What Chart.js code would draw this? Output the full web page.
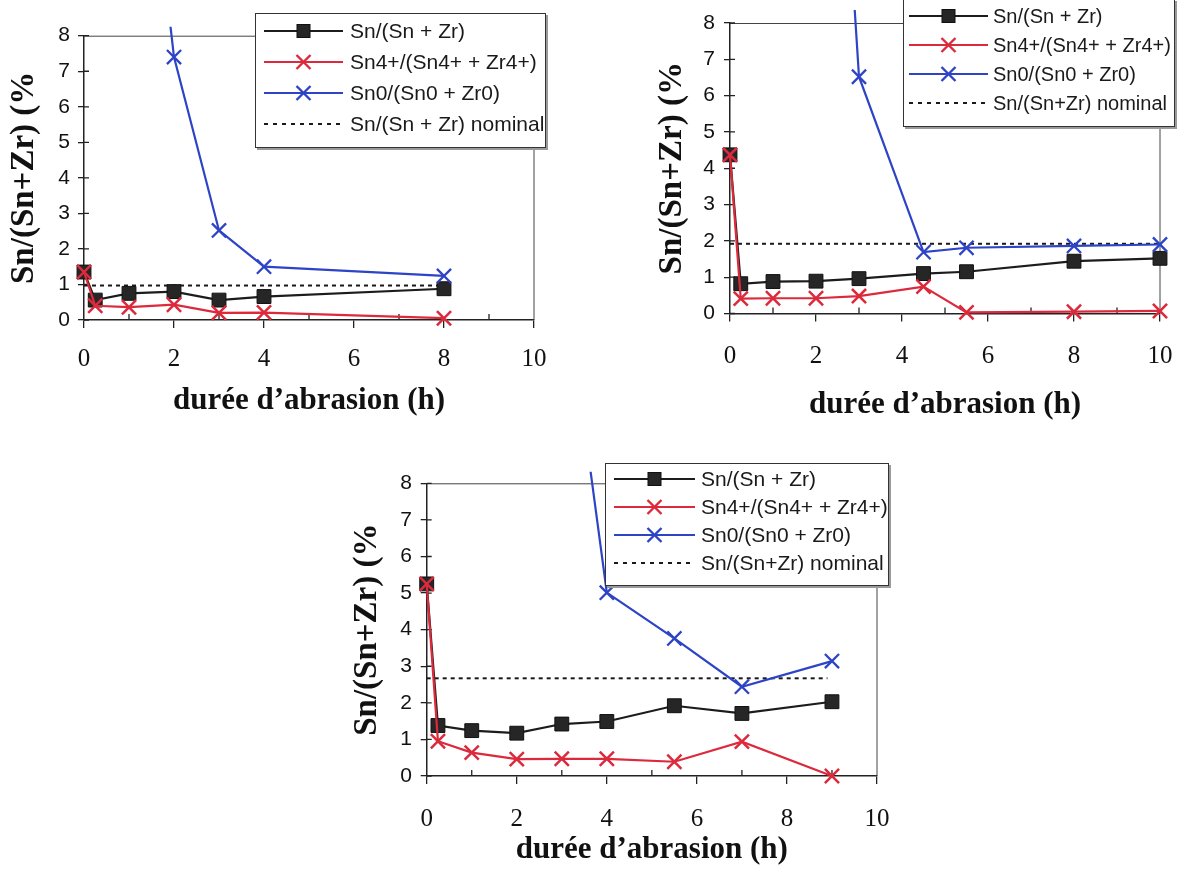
<!DOCTYPE html>
<html><head><meta charset="utf-8">
<script src="https://cdn.jsdelivr.net/npm/chart.js@4"></script>
<style>
html,body{margin:0;padding:0;background:#fff;}
#wrap{position:relative;width:1192px;height:873px;overflow:hidden;background:#fff;}
.panel{position:absolute;}
.legend{position:absolute;background:#fff;border:1px solid #333;box-shadow:2px 2px 0 #9a9a9a;font-family:'Liberation Sans',Arial,sans-serif;color:#1a1a1a;box-sizing:border-box;}
.row{position:absolute;display:flex;align-items:center;white-space:nowrap;height:24px;}
</style></head><body>
<div id="wrap"></div>
<script>
// ---------- data ----------
const xTickLabels = [0, 2, 4, 6, 8, 10];
const yTickLabels = [0, 1, 2, 3, 4, 5, 6, 7, 8];
const yTitle = 'Sn/(Sn+Zr) (%';
const xTitle = 'durée d’abrasion (h)';
const labelsA = ['Sn/(Sn + Zr)', 'Sn4+/(Sn4+ + Zr4+)', 'Sn0/(Sn0 + Zr0)', 'Sn/(Sn + Zr) nominal'];
const labelsBC = ['Sn/(Sn + Zr)', 'Sn4+/(Sn4+ + Zr4+)', 'Sn0/(Sn0 + Zr0)', 'Sn/(Sn+Zr) nominal'];

// panel (a) top-left
const aTime = [0, 0.25, 1, 2, 3, 4, 8];
const aSnTotal = [1.35, 0.56, 0.75, 0.8, 0.56, 0.66, 0.88];
const aSn4 = [1.35, 0.4, 0.36, 0.43, 0.2, 0.21, 0.05];
const aTimeSn0 = [1, 2, 3, 4, 8];
const aSn0 = [18.4, 7.4, 2.52, 1.5, 1.24];
const aNominalX = [0, 8];
const aNominal = [0.97, 0.97];

// panel (b) top-right
const bTime = [0, 0.25, 1, 2, 3, 4.5, 5.5, 8, 10];
const bSnTotal = [4.37, 0.82, 0.88, 0.89, 0.96, 1.1, 1.15, 1.44, 1.52];
const bSn4 = [4.37, 0.41, 0.42, 0.42, 0.48, 0.74, 0.03, 0.05, 0.07];
const bTimeSn0 = [2, 3, 4.5, 5.5, 8, 10];
const bSn0 = [25, 6.52, 1.69, 1.81, 1.86, 1.9];
const bNominalX = [0, 10];
const bNominal = [1.92, 1.92];

// panel (c) bottom
const cTime = [0, 0.25, 1, 2, 3, 4, 5.5, 7, 9];
const cSnTotal = [5.25, 1.38, 1.24, 1.17, 1.42, 1.49, 1.92, 1.71, 2.03];
const cSn4 = [5.25, 0.95, 0.64, 0.46, 0.47, 0.47, 0.39, 0.94, 0.0];
const cTimeSn0 = [3, 4, 5.5, 7, 9];
const cSn0 = [14.2, 5.01, 3.76, 2.44, 3.14];
const cNominalX = [0, 8.9];
const cNominal = [2.67, 2.67];

// ---------- styles ----------
const STY = [
  {color:'#1c1c1c', fill:'#262626', point:'rect', r:9.8, bw:2.2, pbw:1, order:2},
  {color:'#dc2a3c', fill:'#dc2a3c', point:'crossRot', r:10, bw:2.2, pbw:2.5, order:0},
  {color:'#2e44c6', fill:'#2e44c6', point:'crossRot', r:10, bw:2.2, pbw:2.3, order:1},
  {color:'#1a1a1a', dash:[4,4], bw:2, order:3}
];

const panels = [
  {box:[0,0,600,430], plot:[84,35.7,534,320], xTickPad:16.5, xTitlePad:10.7, yTickPad:8, yTitlePad:4.6, clip:9,
   series:[[aTime,aSnTotal],[aTime,aSn4],[aTimeSn0,aSn0],[aNominalX,aNominal]], labels:labelsA,
   leg:{x:255,y:12.6,w:291,h:135,first:17,step:31.3,sx:8,sw:79,gap:7,fs:21}},
  {box:[600,0,592,430], plot:[730,23,1172,313.5], xTickPad:19.5, xTitlePad:6.4, yTickPad:9, yTitlePad:52.7, clip:13,
   series:[[bTime,bSnTotal],[bTime,bSn4],[bTimeSn0,bSn0],[bNominalX,bNominal]], labels:labelsBC,
   leg:{x:903,y:-1,w:272,h:128,first:16,step:29,sx:5,sw:79,gap:5,fs:20}},
  {box:[330,440,580,433], plot:[426.7,483.3,880,776], xTickPad:20.5, xTitlePad:4.4, yTickPad:8.7, yTitlePad:17.8, clip:11.6,
   series:[[cTime,cSnTotal],[cTime,cSn4],[cTimeSn0,cSn0],[cNominalX,cNominal]], labels:labelsBC,
   leg:{x:605,y:462.7,w:284,h:123,first:15.3,step:28,sx:8,sw:81,gap:6,fs:21}}
];

const framePlugin = {
  id:'frame',
  beforeDatasetsDraw(chart){
    const {ctx, chartArea:a, scales:{x, y}} = chart;
    ctx.save();
    ctx.strokeStyle = '#444'; ctx.lineWidth = 1;
    ctx.beginPath();
    ctx.moveTo(a.left, a.top + 0.5); ctx.lineTo(a.right, a.top + 0.5); ctx.lineTo(a.right, a.bottom);
    ctx.stroke();
    ctx.strokeStyle = '#222'; ctx.lineWidth = 1.3;
    ctx.beginPath();
    x.ticks.forEach(t => {
      if (t.value % 2 !== 0) { const px = x.getPixelForValue(t.value); ctx.moveTo(px, a.bottom); ctx.lineTo(px, a.bottom - 6); }
    });
    yTickLabels.forEach(v => { const py = y.getPixelForValue(v); ctx.moveTo(a.left, py); ctx.lineTo(a.left + 5, py); });
    ctx.stroke();
    ctx.restore();
  }
};

const wrap = document.getElementById('wrap');

function sampleSvg(i, w){
  const s = STY[i], c = w/2;
  let m = '';
  if (i === 0) m = `<rect x="${c-6.5}" y="5.5" width="13" height="13" fill="${s.fill}" stroke="#111"/>`;
  else if (i < 3) m = `<path d="M${c-7} 5 L${c+7} 19 M${c+7} 5 L${c-7} 19" stroke="${s.color}" stroke-width="2.4" fill="none"/>`;
  const dash = i === 3 ? ' stroke-dasharray="4 5"' : '';
  return `<svg width="${w}" height="24" style="display:block;flex:none"><line x1="0" y1="12" x2="${w}" y2="12" stroke="${s.color}" stroke-width="2"${dash}/>${m}</svg>`;
}

function makeLegend(p){
  const g = p.leg;
  const L = document.createElement('div');
  L.className = 'legend';
  Object.assign(L.style, {left:g.x+'px', top:g.y+'px', width:g.w+'px', height:g.h+'px', fontSize:g.fs+'px'});
  p.labels.forEach((lab, i) => {
    const row = document.createElement('div');
    row.className = 'row';
    row.style.top = (g.first + i*g.step - 12) + 'px';
    row.style.left = g.sx + 'px';
    row.innerHTML = sampleSvg(i, g.sw) + `<span style="margin-left:${g.gap}px">${lab}</span>`;
    L.appendChild(row);
  });
  wrap.appendChild(L);
}

function makeChart(p){
  const [bx, by, bw, bh] = p.box;
  const [pl, pt, pr, pb] = p.plot;
  const div = document.createElement('div');
  div.className = 'panel';
  Object.assign(div.style, {left:bx+'px', top:by+'px', width:bw+'px', height:bh+'px'});
  const cv = document.createElement('canvas');
  cv.width = bw; cv.height = bh;
  cv.style.width = bw+'px'; cv.style.height = bh+'px';
  div.appendChild(cv);
  wrap.appendChild(div);

  const datasets = p.series.map(([xs, ys], i) => {
    const s = STY[i];
    const ds = {
      label: p.labels[i],
      data: xs.map((xv, k) => ({x: xv, y: ys[k]})),
      borderColor: s.color, borderWidth: s.bw, tension: 0, order: s.order,
      pointRadius: i === 3 ? 0 : s.r, pointStyle: s.point || 'circle',
      pointBackgroundColor: s.fill, pointBorderColor: i === 0 ? '#111' : s.color,
      pointBorderWidth: s.pbw || 0, pointHoverRadius: i === 3 ? 0 : s.r,
      clip: {left: 16, top: 16, right: 16, bottom: 16}
    };
    if (s.dash) ds.borderDash = s.dash;
    if (i === 2) ds.clip = {left: 16, top: p.clip, right: 16, bottom: 16};
    return ds;
  });

  new Chart(cv, {
    type: 'line',
    data: {datasets},
    options: {
      responsive: false, animation: false, devicePixelRatio: 1,
      layout: {padding: {left: 0, top: pt - by, right: bx + bw - pr, bottom: 0}},
      plugins: {legend: {display: false}, tooltip: {enabled: false}},
      scales: {
        x: {
          type: 'linear', min: 0, max: 10,
          afterFit(s){ s.height = by + bh - pb; },
          ticks: {stepSize: 1, autoSkip: false, maxRotation: 0, padding: p.xTickPad, color: '#111',
                  font: {family: "'Liberation Serif', 'Times New Roman', serif", size: 25},
                  callback: v => xTickLabels.includes(v) ? String(v) : ''},
          grid: {drawOnChartArea: false, drawTicks: true, tickLength: 8, lineWidth: 1.3,
                 color: c => (c.tick && c.tick.value % 2 === 0) ? '#222' : 'rgba(0,0,0,0)'},
          border: {display: true, color: '#222', width: 1.5},
          title: {display: true, text: xTitle, color: '#111',
                  font: {family: "'Liberation Serif', 'Times New Roman', serif", size: 31, weight: 'bold'},
                  padding: {top: 0, bottom: p.xTitlePad}}
        },
        y: {
          type: 'linear', min: 0, max: 8,
          afterFit(s){ s.width = pl - bx; },
          ticks: {stepSize: 1, padding: p.yTickPad, color: '#111',
                  font: {family: "'Liberation Sans', Arial, sans-serif", size: 21},
                  callback: v => yTickLabels.includes(v) ? String(v) : ''},
          grid: {drawOnChartArea: false, drawTicks: true, tickLength: 6, color: '#222', lineWidth: 1.3},
          border: {display: true, color: '#222', width: 1.5},
          title: {display: true, text: yTitle, color: '#111',
                  font: {family: "'Liberation Serif', 'Times New Roman', serif", size: 33, weight: 'bold'},
                  padding: {top: p.yTitlePad, bottom: 0}}
        }
      }
    },
    plugins: [framePlugin]
  });
  makeLegend(p);
}

panels.forEach(makeChart);
</script>
</body></html>
